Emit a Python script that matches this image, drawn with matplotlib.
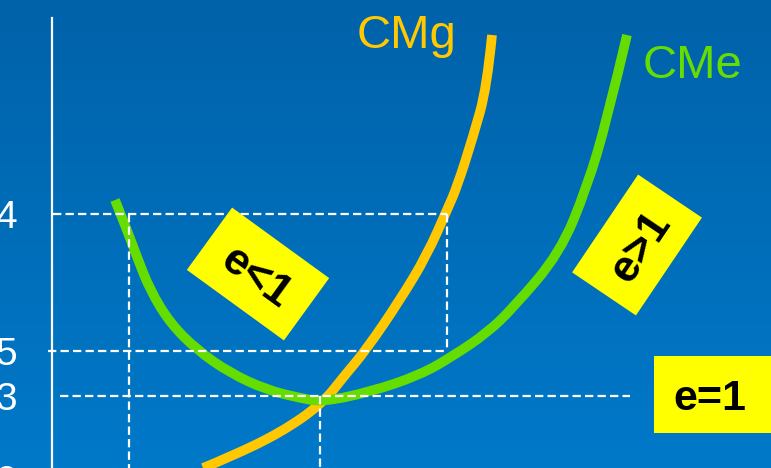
import numpy as np
import matplotlib
matplotlib.use('Agg')
import matplotlib.pyplot as plt
from matplotlib.patches import Rectangle, PathPatch
from matplotlib.path import Path

plt.rcParams['font.family'] = ['Liberation Sans', 'DejaVu Sans']
plt.rcParams['lines.scale_dashes'] = False

# Curvas de costo (cantidad, costo)
cme_q = [63, 75, 85, 98, 118, 145, 178, 215, 248, 270, 318, 368, 401, 435, 461, 508, 535, 555, 575]
cme_c = [268, 238, 211, 178, 145, 118, 95, 78, 70, 66, 76, 93, 112, 135, 160, 215, 281, 348, 433]

cmg_q = [151, 178, 228, 270, 293, 314, 348, 375, 395, 405, 421, 435, 440]
cmg_c = [0, 11, 35, 64, 93, 118, 168, 213, 258, 281, 331, 381, 433]

# Niveles de precio marcados en el eje
price_levels = [254, 117, 72]
price_labels = ['4', '5', '3']

# Cantidades de referencia
q_low, q_min, q_high = 77, 268, 395

BG_TOP = '#0062a9'
BG_BOTTOM = '#0079c9'
YELLOW_LINE = '#ffc800'
GREEN_LINE = '#66dd00'
BOX = '#ffff00'


def smooth_path(xs, ys):
    # los puntos interiores hacen de control de curvas cuadráticas
    pts = np.column_stack([xs, ys]).astype(float)
    verts = [pts[0]]
    codes = [Path.MOVETO]
    for i in range(1, len(pts) - 1):
        mid = (pts[i] + pts[i + 1]) / 2 if i < len(pts) - 2 else pts[i + 1]
        verts += [pts[i], mid]
        codes += [Path.CURVE3, Path.CURVE3]
    return Path(verts, codes)


fig = plt.figure(figsize=(7.71, 4.68), dpi=100)
ax = fig.add_axes([0, 0, 1, 1])
ax.set_xlim(-52, 719)
ax.set_ylim(0, 468)
ax.axis('off')

# fondo degradado
top = np.array(matplotlib.colors.to_rgb(BG_TOP))
bot = np.array(matplotlib.colors.to_rgb(BG_BOTTOM))
t = np.linspace(0, 1, 256)[:, None]
grad = (top * (1 - t) + bot * t)[:, None, :]
ax.imshow(grad, extent=(-52, 719, 0, 468), aspect='auto', origin='upper', zorder=0)

# eje vertical
ax.plot([0, 0], [-20, 450], color='white', lw=1.6, zorder=2)

# curvas
for q, c, col in [(cmg_q, cmg_c, YELLOW_LINE), (cme_q, cme_c, GREEN_LINE)]:
    ax.add_patch(PathPatch(smooth_path(q, c), facecolor='none', edgecolor=col,
                           lw=7.0, capstyle='butt', joinstyle='round', zorder=3))

# líneas guía punteadas
dash = dict(color='white', lw=1.6, dashes=(6, 3), zorder=4)
ax.plot([1, q_high], [price_levels[0]] * 2, **dash)
ax.plot([-4, q_high], [price_levels[1]] * 2, **dash)
ax.plot([8, 578], [price_levels[2]] * 2, **dash)
ax.plot([q_low, q_low], [price_levels[0], -10], **dash)
ax.plot([q_min, q_min], [price_levels[2], -10], **dash)
ax.plot([q_high, q_high], [price_levels[0], price_levels[1]], **dash)

# etiquetas de precio
for lvl, lab in zip(price_levels, price_labels):
    ax.text(-35, lvl, lab, color='white', fontsize=28, ha='right',
            va='center_baseline', zorder=5)
ax.text(-35, -11, '0', color='white', fontsize=28, ha='right',
        va='center_baseline', zorder=5)

# nombres de curvas
ax.text(305, 420, 'CMg', color=YELLOW_LINE, fontsize=34, ha='left', va='baseline', zorder=5)
ax.text(591, 390, 'CMe', color=GREEN_LINE, fontsize=34, ha='left', va='baseline', zorder=5)


def tag(cx, cy, w, h, angle, label):
    rect = Rectangle((cx - w / 2, cy - h / 2), w, h, angle=angle,
                     rotation_point='center', facecolor=BOX, edgecolor='none', zorder=6)
    ax.add_patch(rect)
    ax.text(cx, cy, label, rotation=angle, rotation_mode='anchor', ha='center',
            va='center_baseline', fontsize=32, fontweight='bold', color='black', zorder=7)


tag(206, 194, 120, 77, -36, 'e<1')
tag(585, 223, 118, 77, 56, 'e>1')
tag(662, 74, 120, 77, 0, '')
ax.text(658, 74, 'e=1', ha='center', va='center_baseline', fontsize=31,
        fontweight='bold', color='black', zorder=7)

fig.savefig('out.png', dpi=100)
